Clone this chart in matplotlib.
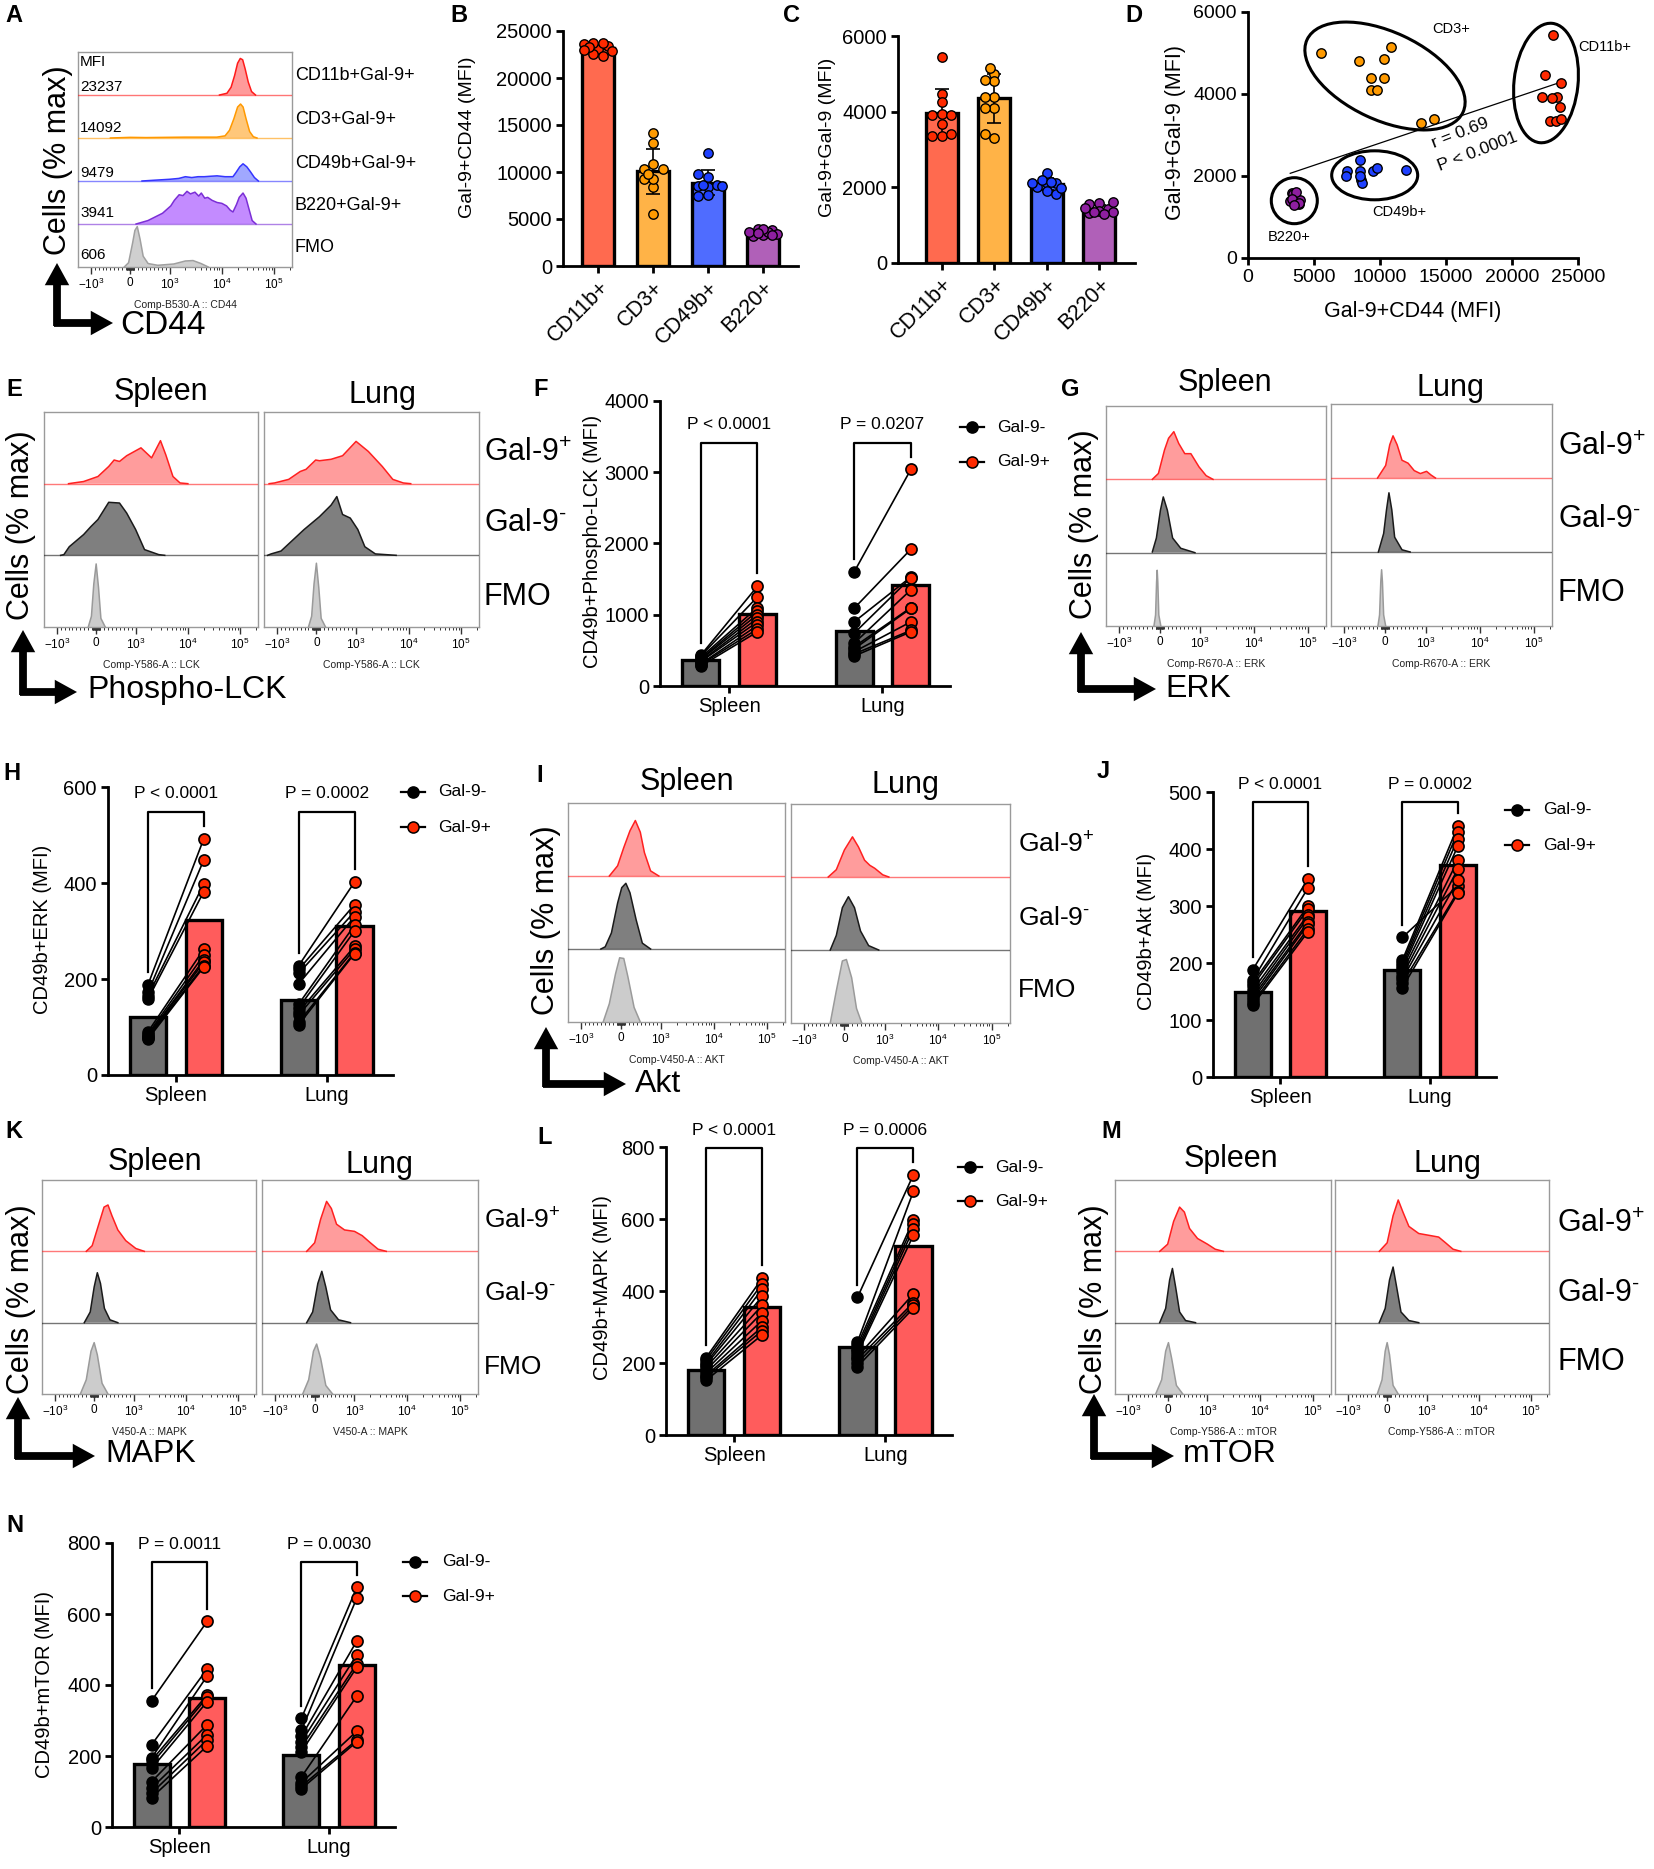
# Galectin-9 / CD49b signalling figure: flow histograms, subset bars,
# correlation scatter and paired Gal-9- / Gal-9+ bar charts.

import numpy as np
import matplotlib as mpl
mpl.use("Agg")
import matplotlib.pyplot as plt
from matplotlib.patches import Ellipse, FancyArrowPatch
from matplotlib.lines import Line2D
from matplotlib.transforms import ScaledTranslation
from matplotlib.ticker import NullFormatter

plt.rcParams['font.family'] = ['Liberation Sans', 'DejaVu Sans']
plt.rcParams['mathtext.fontset'] = 'custom'
plt.rcParams['mathtext.rm'] = 'Liberation Sans'
plt.rcParams['mathtext.it'] = 'Liberation Sans:italic'
plt.rcParams['mathtext.bf'] = 'Liberation Sans:bold'
plt.rcParams['mathtext.sf'] = 'Liberation Sans'

# ---------------- data: panel A (CD44 histograms) ----------------
a_rows = ['CD11b+Gal-9+', 'CD3+Gal-9+', 'CD49b+Gal-9+', 'B220+Gal-9+', 'FMO']
a_mfi = ['23237', '14092', '9479', '3941', '606']
a_cd11b = ([9000, 12500, 15000, 17500, 20000, 22500, 25000, 28000, 32000, 37000, 44000],
           [0, 0.04, 0.18, 0.45, 0.74, 0.85, 0.82, 0.6, 0.3, 0.08, 0])
a_cd3 = ([-500, 0, 400, 2000, 8000, 11500, 14000, 17000, 20000, 22800, 25500, 29000, 34000, 40000, 47000],
         [0, 0.015, 0.01, 0.02, 0.02, 0.05, 0.18, 0.45, 0.72, 0.79, 0.72, 0.45, 0.15, 0.03, 0])
a_cd49b = ([300, 640, 1000, 1500, 2000, 2650, 3500, 4600, 6000, 8100, 11500, 16300, 18700,
            22000, 25400, 30000, 35000, 42000, 50000],
           [0, 0.02, 0.04, 0.06, 0.1, 0.08, 0.1, 0.1, 0.11, 0.12, 0.1, 0.1, 0.2,
            0.33, 0.4, 0.33, 0.22, 0.08, 0])
a_b220 = ([150, 450, 820, 1050, 1230, 1520, 1800, 2150, 2500, 3050, 3600, 4040, 4700, 5340,
           6500, 8100, 10000, 12300, 14500, 16300, 19000, 21500, 25400, 29000, 33000, 38000, 45000],
          [0, 0.08, 0.25, 0.42, 0.55, 0.68, 0.66, 0.76, 0.7, 0.74, 0.65, 0.72, 0.6, 0.62,
           0.55, 0.5, 0.48, 0.42, 0.32, 0.28, 0.45, 0.62, 0.72, 0.6, 0.35, 0.08, 0])
a_fmo = ([-150, -40, 60, 120, 180, 250, 330, 455, 700, 1200, 2000, 2800, 4000, 5500],
         [0, 0.1, 0.55, 0.85, 0.94, 0.65, 0.25, 0.08, 0.04, 0.07, 0.14, 0.15, 0.08, 0])

# ---------------- data: panels B, C, D (per mouse, paired) ----------------
subsets = ['CD11b+', 'CD3+', 'CD49b+', 'B220+']
cd44_cd11b = [23100, 22500, 23700, 22300, 23400, 23600, 22900, 23300, 23000, 23700]
cd44_cd3 = [5500, 8400, 10800, 10300, 9300, 10300, 9300, 9800, 13100, 14100]
cd44_cd49b = [8450, 7500, 7450, 8500, 8570, 8620, 9450, 9750, 11970, 8500]
cd44_b220 = [3330, 3200, 3830, 3960, 3580, 3400, 3650, 3300, 3900, 3500]
gal9_cd11b = [5450, 4460, 4260, 3930, 3920, 3680, 3350, 3350, 3900, 3400]
gal9_cd3 = [5000, 4800, 5150, 4850, 4400, 4400, 4100, 4100, 3300, 3400]
gal9_cd49b = [2390, 2110, 2000, 2110, 1910, 1830, 2110, 2190, 2150, 1990]
gal9_b220 = [1580, 1380, 1320, 1420, 1340, 1550, 1600, 1450, 1350, 1300]
corr_text = ['r = 0.69', 'P < 0.0001']

# ---------------- data: histogram panels E, G, I, K, M ----------------
e_spl_pos = ([-700, -318, 45, 318, 455, 591, 773, 1265, 2020, 2990, 3790, 5180, 7080, 10000],
             [0, 0.03, 0.1, 0.24, 0.33, 0.31, 0.39, 0.5, 0.36, 0.6, 0.4, 0.1, 0.01, 0])
e_spl_neg = ([-900, -818, -682, -318, -136, 45, 318, 591, 773, 1000, 1480, 2770, 3600],
             [0, 0.01, 0.12, 0.29, 0.4, 0.5, 0.74, 0.73, 0.59, 0.36, 0.08, 0.01, 0])
e_spl_fmo = ([-200, -120, -60, 0, 60, 120, 230], [0, 0.15, 0.6, 0.88, 0.55, 0.12, 0])
e_lung_pos = ([-1400, -1100, -699, -408, -262, -19, 78, 369, 660, 1000, 1710, 3160, 5010, 7940, 11000],
              [0, 0.01, 0.06, 0.17, 0.2, 0.33, 0.32, 0.34, 0.39, 0.59, 0.45, 0.24, 0.06, 0.01, 0])
e_lung_neg = ([-1500, -1280, -893, -699, -311, 78, 369, 515, 660, 854, 1080, 1470, 2330, 5800],
              [0, 0.02, 0.06, 0.16, 0.36, 0.54, 0.7, 0.82, 0.57, 0.52, 0.36, 0.12, 0.02, 0])
e_lung_fmo = ([-200, -120, -60, 0, 60, 120, 230], [0, 0.15, 0.6, 0.89, 0.55, 0.12, 0])

g_spl_pos = ([-180, -30, 120, 220, 350, 470, 620, 770, 970, 1290, 1730],
             [0, 0.08, 0.4, 0.56, 0.65, 0.49, 0.35, 0.35, 0.17, 0.05, 0])
g_spl_neg = ([-180, -80, 20, 90, 190, 320, 520, 870], [0.01, 0.2, 0.58, 0.76, 0.58, 0.2, 0.06, 0])
g_spl_fmo = ([-140, -100, -75, -60, -45, -20, 30], [0, 0.15, 0.6, 0.76, 0.6, 0.15, 0])
g_lung_pos = ([-180, 20, 120, 200, 300, 420, 570, 720, 870, 1040, 1260, 1520],
              [0, 0.17, 0.45, 0.57, 0.45, 0.24, 0.2, 0.1, 0.06, 0.09, 0.04, 0])
g_lung_neg = ([-160, -30, 40, 100, 170, 240, 420, 620], [0, 0.25, 0.57, 0.8, 0.57, 0.2, 0.03, 0])
g_lung_fmo = ([-170, -130, -100, -80, -60, -30, 20], [0, 0.15, 0.6, 0.76, 0.6, 0.15, 0])

i_spl_pos = ([-289, -82, 72, 227, 361, 485, 588, 742, 948], [0, 0.14, 0.39, 0.62, 0.76, 0.6, 0.32, 0.07, 0])
i_spl_neg = ([-500, -392, -237, -82, 21, 124, 227, 381, 536, 742],
             [0, 0.03, 0.22, 0.63, 0.84, 0.9, 0.77, 0.4, 0.08, 0])
i_spl_fmo = ([-443, -289, -134, -31, 72, 175, 330, 485], [0, 0.25, 0.66, 0.88, 0.87, 0.62, 0.2, 0])
i_lung_pos = ([-400, -200, 0, 200, 350, 500, 630, 750, 950, 1190],
              [0, 0.1, 0.37, 0.55, 0.41, 0.23, 0.16, 0.12, 0.03, 0])
i_lung_neg = ([-350, -200, -50, 100, 250, 400, 600, 850], [0, 0.2, 0.58, 0.73, 0.58, 0.26, 0.06, 0])
i_lung_fmo = ([-350, -200, -50, 50, 180, 300, 430], [0, 0.44, 0.85, 0.87, 0.62, 0.2, 0])

k_spl_pos = ([-200, -50, 100, 250, 350, 450, 600, 800, 1100, 1600], [0, 0.08, 0.35, 0.62, 0.65, 0.5, 0.3, 0.15, 0.04, 0])
k_spl_neg = ([-250, -100, 0, 80, 160, 260, 400, 600], [0, 0.15, 0.5, 0.7, 0.55, 0.2, 0.04, 0])
k_spl_fmo = ([-350, -200, -80, 0, 80, 200, 350], [0, 0.2, 0.6, 0.72, 0.55, 0.15, 0])
k_lung_pos = ([-200, 0, 150, 300, 420, 550, 750, 1000, 1400, 2000, 2800, 4000],
              [0, 0.12, 0.45, 0.7, 0.6, 0.38, 0.3, 0.28, 0.22, 0.12, 0.03, 0])
k_lung_neg = ([-200, -50, 80, 180, 280, 400, 600, 900], [0, 0.15, 0.55, 0.72, 0.5, 0.18, 0.04, 0])
k_lung_fmo = ([-300, -150, -30, 50, 150, 280, 450], [0, 0.2, 0.6, 0.7, 0.5, 0.12, 0])

m_spl_pos = ([-200, 0, 150, 300, 420, 550, 750, 1000, 1400, 2000], [0, 0.1, 0.42, 0.62, 0.55, 0.32, 0.18, 0.1, 0.03, 0])
m_spl_neg = ([-200, -50, 50, 120, 200, 300, 450, 700], [0, 0.2, 0.6, 0.76, 0.5, 0.15, 0.03, 0])
m_spl_fmo = ([-300, -150, -50, 20, 100, 220, 380], [0, 0.2, 0.6, 0.72, 0.5, 0.12, 0])
m_lung_pos = ([-200, 0, 150, 280, 400, 550, 800, 1200, 1700, 2300, 3200, 4500],
              [0, 0.12, 0.5, 0.72, 0.55, 0.35, 0.25, 0.22, 0.2, 0.12, 0.03, 0])
m_lung_neg = ([-200, -50, 60, 150, 240, 350, 550, 800], [0, 0.2, 0.6, 0.78, 0.5, 0.15, 0.03, 0])
m_lung_fmo = ([-250, -130, -50, 0, 60, 150, 280], [0, 0.2, 0.6, 0.72, 0.55, 0.12, 0])

# ---------------- data: paired panels F, H, J, L, N ----------------
tissues = ['Spleen', 'Lung']
f_spl_neg = [430, 420, 400, 380, 370, 350, 340, 310, 300, 280]
f_spl_pos = [1400, 1250, 1100, 1050, 1000, 950, 900, 850, 800, 760]
f_lung_neg = [1600, 1090, 900, 740, 600, 550, 520, 480, 450, 420]
f_lung_pos = [3040, 1920, 1530, 1520, 1350, 1100, 1090, 900, 780, 760]
f_bars = [(365, 1006), (777, 1418)]
f_p = ['P < 0.0001', 'P = 0.0207']

h_spl_neg = [188, 172, 165, 158, 90, 85, 82, 80, 78, 75]
h_spl_pos = [492, 448, 398, 382, 262, 250, 240, 235, 228, 225]
h_lung_neg = [228, 220, 212, 190, 148, 140, 132, 125, 110, 105]
h_lung_pos = [402, 355, 340, 330, 312, 300, 268, 262, 255, 253]
h_bars = [(120, 322), (156, 311)]
h_p = ['P < 0.0001', 'P = 0.0002']

j_spl_neg = [188, 170, 165, 160, 152, 145, 140, 135, 130, 126]
j_spl_pos = [348, 332, 300, 295, 285, 280, 272, 268, 260, 255]
j_lung_neg = [245, 205, 200, 195, 190, 185, 178, 172, 165, 157]
j_lung_pos = [335, 440, 430, 418, 405, 380, 365, 345, 325, 322]
j_bars = [(149, 291), (188, 372)]
j_p = ['P < 0.0001', 'P = 0.0002']

l_spl_neg = [215, 208, 200, 195, 188, 180, 172, 165, 160, 152]
l_spl_pos = [435, 420, 405, 385, 360, 340, 318, 300, 290, 278]
l_lung_neg = [382, 258, 250, 240, 232, 225, 218, 210, 200, 190]
l_lung_pos = [723, 677, 597, 585, 572, 555, 392, 368, 360, 352]
l_bars = [(181, 355), (244, 526)]
l_p = ['P < 0.0001', 'P = 0.0006']

n_spl_neg = [356, 232, 195, 188, 178, 165, 128, 110, 96, 83]
n_spl_pos = [579, 445, 425, 372, 365, 353, 288, 260, 245, 228]
n_lung_neg = [306, 272, 255, 240, 225, 212, 141, 125, 115, 108]
n_lung_pos = [675, 645, 524, 485, 460, 450, 369, 270, 245, 240]
n_bars = [(177, 362), (202, 455)]
n_p = ['P = 0.0011', 'P = 0.0030']

bracket_tops = {'F': 3410, 'H': 548, 'J': 482, 'L': 797, 'N': 746}

# ---------------- styling ----------------
W, H = 1654, 1869
BAR_COLS = ['#FF6A4F', '#FFB347', '#4F6CFF', '#B060B8']
DOT_COLS = ['#FF2A00', '#FF9A00', '#1E40FF', '#8E1FA0']
BAR_NEG, BAR_POS, DOT_POS = '#707070', '#FF5C5C', '#FF2A00'
HIST_COLS = [('#FF2020', '#FF9C9C'), ('#1A1A1A', '#7F7F7F'), ('#9A9A9A', '#CCCCCC')]
A_COLS = [('#FF1A1A', '#FF9A9A'), ('#FF9900', '#FFC77A'), ('#3535FF', '#A0A8FF'),
          ('#7B2FD6', '#C38BFF'), ('#A0A0A0', '#CFCFCF')]

fig = plt.figure(figsize=(W / 100, H / 100), dpi=100)


def px_axes(x0, y0, x1, y1):
    return fig.add_axes([x0 / W, 1 - y1 / H, (x1 - x0) / W, (y1 - y0) / H])


def ftext(x, y, s, **kw):
    kw.setdefault('ha', 'center')
    kw.setdefault('va', 'center')
    return fig.text(x / W, 1 - y / H, s, **kw)


def l_arrow(x, ytip, ycorner, xtip):
    style = 'simple,head_length=1.0,head_width=1.1,tail_width=0.35'
    for a, b in (((x, ycorner + 3), (x, ytip)), ((x - 3, ycorner), (xtip, ycorner))):
        fig.add_artist(FancyArrowPatch((a[0] / W, 1 - a[1] / H), (b[0] / W, 1 - b[1] / H),
                                       transform=fig.transFigure, arrowstyle=style,
                                       mutation_scale=16, color='black', lw=0,
                                       shrinkA=0, shrinkB=0))


HIST_MAJOR = [-1000, 0, 1000, 1e4, 1e5]
HIST_LABELS = [r'$-10^{3}$', '0', r'$10^{3}$', r'$10^{4}$', r'$10^{5}$']
HIST_MINOR = ([-v for v in range(100, 1000, 100)] + [-v for v in range(10, 100, 10)]
              + list(range(10, 100, 10)) + list(range(100, 1000, 100))
              + [k * 10 ** e for e in (3, 4) for k in range(2, 10)] + [2e5])
ROW_LABELS = ['Gal-9$^{+}$', r'Gal-9$^{\text{-}}$', 'FMO']


def hist_axes(box, curves, colors, xlabel):
    ax = px_axes(*box)
    ax.set_xscale('symlog', linthresh=1000, linscale=0.68)
    n = len(curves)
    for i, ((cx, cy), (edge, fill)) in enumerate(zip(curves, colors)):
        base = n - 1 - i
        xx = np.asarray(cx, float)
        yy = base + np.asarray(cy, float)
        ax.fill_between(xx, base, yy, facecolor=fill, edgecolor='none', zorder=2)
        ax.plot(xx, yy, color=edge, lw=1.1, zorder=3)
        if base > 0:
            ax.axhline(base, color=edge, lw=1.0, alpha=0.6, zorder=3)
    ax.set_xlim(-1750, 2.2e5)
    ax.set_ylim(0, n)
    ax.set_yticks([])
    ax.set_xticks(HIST_MAJOR, HIST_LABELS)
    ax.set_xticks(HIST_MINOR, minor=True)
    ax.xaxis.set_minor_formatter(NullFormatter())
    ax.tick_params(axis='x', which='major', length=5, width=1, labelsize=8.5, pad=2, color='#333333')
    ax.tick_params(axis='x', which='minor', length=2.5, width=0.7, color='#333333')
    for s in ax.spines.values():
        s.set_color('#9A9A9A')
        s.set_linewidth(1.0)
    x0, y0, x1, y1 = box
    ftext((x0 + x1) / 2, y1 + 38, xlabel, fontsize=7.5, color='#222222')
    return ax


def hist_panel(spl_box, lung_box, spl_curves, lung_curves, xlabel, titles_xy, labels_x, labels_y,
               label_size, cells_xy, arrow, name, name_xy):
    hist_axes(spl_box, spl_curves, HIST_COLS, xlabel)
    hist_axes(lung_box, lung_curves, HIST_COLS, xlabel)
    for t, (tx, ty) in zip(tissues, titles_xy):
        ftext(tx, ty, t, fontsize=22)
    for lab, ly in zip(ROW_LABELS, labels_y):
        ftext(labels_x, ly, lab, fontsize=label_size, ha='left')
    ftext(cells_xy[0], cells_xy[1], 'Cells (% max)', fontsize=22, rotation=90)
    l_arrow(*arrow)
    ftext(name_xy[0], name_xy[1], name, fontsize=23, ha='left')


def style_axes(ax, size=14.5):
    for s in ('top', 'right'):
        ax.spines[s].set_visible(False)
    for s in ('left', 'bottom'):
        ax.spines[s].set_linewidth(2)
    ax.tick_params(width=2, length=5, labelsize=size, pad=3)


def swarm(values, xc, ux, uy, d_px=9.5):
    # simple deterministic beeswarm, kept within about one bar width
    placed, xs = [], []
    cands = [0.0, -0.5, 0.5, -1.0, 1.0, -1.5, 1.5]
    for v in values:
        best, best_d = 0.0, -1.0
        for c in cands:
            dmin = min([np.hypot((c - pc) * d_px, (v - pv) / uy) for pc, pv in placed] + [99.0])
            if dmin >= 0.75 * d_px:
                best = c
                break
            if dmin > best_d:
                best, best_d = c, dmin
        placed.append((best, v))
        xs.append(xc + best * d_px * ux)
    return xs


def subset_bars(box, groups, ymax, ystep, bw, xlim, ylabel, ylab_xy):
    ax = px_axes(*box)
    ux = (xlim[1] - xlim[0]) / (box[2] - box[0])
    uy = ymax / (box[3] - box[1])
    for i, vals in enumerate(groups):
        m, sd = np.mean(vals), np.std(vals, ddof=1)
        ax.bar(i, m, bw, color=BAR_COLS[i], edgecolor='black', linewidth=2.4, zorder=1)
        ax.errorbar(i, m, yerr=sd, color='black', capsize=5, elinewidth=1.2, capthick=1.2, zorder=2)
        ax.scatter(swarm(vals, i, ux, uy), vals, s=46, c=DOT_COLS[i], edgecolors='black',
                   linewidths=1.0, zorder=3, clip_on=False)
    ax.set_xlim(*xlim)
    ax.set_ylim(0, ymax)
    ax.set_yticks(np.arange(0, ymax + 1, ystep))
    ax.set_xticks(range(len(subsets)), subsets, rotation=45, ha='right', rotation_mode='anchor')
    style_axes(ax)
    ax.tick_params(axis='x', labelsize=15.5)
    ftext(ylab_xy[0], ylab_xy[1], ylabel, fontsize=14, rotation=90)
    return ax


def legend_at(xm, xt, rows):
    for (mfc, lab), y in zip([('black', 'Gal-9-'), (DOT_POS, 'Gal-9+')], rows):
        fig.add_artist(Line2D([(xm - 12) / W, xm / W, (xm + 12) / W], [1 - y / H] * 3,
                              transform=fig.transFigure, color='black', lw=1.6, marker='o',
                              markevery=[1], ms=8, mfc=mfc, mec='black', mew=1.1))
        ftext(xt, y, lab, fontsize=12.5, ha='left')


def paired(box, negs, poss, bars, ymax, ystep, top, pvals, ylabel, ylab_xy, leg):
    ax = px_axes(*box)
    off, bw = 0.185, 0.24
    for gi in range(2):
        neg, pos = negs[gi], poss[gi]
        ax.bar(gi - off, bars[gi][0], bw, color=BAR_NEG, edgecolor='black', linewidth=2.4, zorder=1)
        ax.bar(gi + off, bars[gi][1], bw, color=BAR_POS, edgecolor='black', linewidth=2.4, zorder=1)
        for a, b in zip(neg, pos):
            ax.plot([gi - off, gi + off], [a, b], color='black', lw=1.2, zorder=2)
        ax.plot([gi - off] * len(neg), neg, 'o', ms=8, mfc='black', mec='black', zorder=3, clip_on=False)
        ax.plot([gi + off] * len(pos), pos, 'o', ms=8, mfc=DOT_POS, mec='black', mew=1.2,
                zorder=3, clip_on=False)
        pad = 0.045 * ymax
        ax.plot([gi - off, gi - off, gi + off, gi + off], [max(neg) + pad, top, top, max(pos) + pad],
                color='black', lw=1.6, clip_on=False, zorder=4)
        ax.annotate(pvals[gi], (gi, top), xytext=(0, 13), textcoords='offset points',
                    ha='center', va='center', fontsize=12.5, annotation_clip=False)
    ax.set_xlim(-0.45, 1.44)
    ax.set_ylim(0, ymax)
    ax.set_yticks(np.arange(0, ymax + 1, ystep))
    ax.set_xticks([0, 1], tissues)
    style_axes(ax)
    ftext(ylab_xy[0], ylab_xy[1], ylabel, fontsize=14.5, rotation=90)
    legend_at(*leg)
    return ax


# ---------------- panel A ----------------
hist_axes((78, 52, 292, 267), [a_cd11b, a_cd3, a_cd49b, a_b220, a_fmo], A_COLS, 'Comp-B530-A :: CD44')
ftext(80, 62, 'MFI', fontsize=11, ha='left')
for txt, y in zip(a_mfi, [87, 128, 173, 213, 255]):
    ftext(80, y, txt, fontsize=11, ha='left')
for txt, y in zip(a_rows, [76, 120, 163, 205, 247]):
    ftext(295, y, txt, fontsize=13, ha='left')
ftext(58, 160, 'Cells (% max)', fontsize=22, rotation=90)
l_arrow(57, 263, 323, 113)
ftext(120, 326, 'CD44', fontsize=24, ha='left')

# ---------------- panels B, C ----------------
subset_bars((563, 31, 798, 266), [cd44_cd11b, cd44_cd3, cd44_cd49b, cd44_b220], 25000, 5000,
            0.58, (-0.64, 3.64), 'Gal-9+CD44 (MFI)', (467, 137))
subset_bars((898, 36, 1135, 263), [gal9_cd11b, gal9_cd3, gal9_cd49b, gal9_b220], 6000, 2000,
            0.61, (-0.84, 3.69), 'Gal-9+Gal-9 (MFI)', (828, 137))

# ---------------- panel D ----------------
axd = px_axes(1248, 12, 1578, 258)
cd44_all = [cd44_cd11b, cd44_cd3, cd44_cd49b, cd44_b220]
gal9_all = [gal9_cd11b, gal9_cd3, gal9_cd49b, gal9_b220]
xa, ya = np.concatenate(cd44_all), np.concatenate(gal9_all)
k, b0 = np.polyfit(xa, ya, 1)
xl = np.array([xa.min(), xa.max()])
axd.plot(xl, k * xl + b0, color='black', lw=0.9, zorder=1)
for i in range(4):
    axd.scatter(cd44_all[i], gal9_all[i], s=46, c=DOT_COLS[i], edgecolors='black', linewidths=1.0,
                zorder=3, clip_on=False)
# gating ellipses around each subset (size in pixels, centred on the data)
for (cx, cy), (w, h, ang) in zip([(22576, 4268), (10379, 4439), (9598, 2017), (3508, 1398)],
                                 [(120, 64, 84), (172, 88, -25), (86, 49, 0), (46, 46, 0)]):
    tr = fig.dpi_scale_trans + ScaledTranslation(cx, cy, axd.transData)
    axd.add_patch(Ellipse((0, 0), w / 100, h / 100, angle=ang, transform=tr, fill=False,
                          ec='black', lw=2.2, clip_on=False, zorder=2))
for lab, (tx, ty) in zip(['CD11b+', 'CD3+', 'CD49b+', 'B220+'],
                         [(25000, 5146), (13939, 5585), (9394, 1122), (1515, 512)]):
    axd.text(tx, ty, lab, fontsize=10.5, ha='left', va='center', clip_on=False)
axd.text(16060, 3049, corr_text[0], fontsize=12.5, rotation=21, ha='center', va='center')
axd.text(17424, 2585, corr_text[1], fontsize=12.5, rotation=21, ha='center', va='center')
axd.set_xlim(0, 25000)
axd.set_ylim(0, 6000)
axd.set_xticks(range(0, 25001, 5000))
axd.set_yticks(range(0, 6001, 2000))
style_axes(axd, 14)
ftext(1413, 312, 'Gal-9+CD44 (MFI)', fontsize=15.5)
ftext(1175, 133, 'Gal-9+Gal-9 (MFI)', fontsize=15.5, rotation=90)

# ---------------- histogram panels ----------------
hist_panel((44, 412, 258, 627), (264, 412, 479, 627),
           [e_spl_pos, e_spl_neg, e_spl_fmo], [e_lung_pos, e_lung_neg, e_lung_fmo],
           'Comp-Y586-A :: LCK', [(161, 392), (382, 395)], 484, [453, 523, 597], 22,
           (21, 525), (23, 630, 692, 77), 'Phospho-LCK', (87, 690))
hist_panel((1106, 406, 1326, 626), (1331, 404, 1552, 626),
           [g_spl_pos, g_spl_neg, g_spl_fmo], [g_lung_pos, g_lung_neg, g_lung_fmo],
           'Comp-R670-A :: ERK', [(1225, 383), (1450, 388)], 1558, [447, 519, 593], 22,
           (1084, 524), (1081, 632, 689, 1156), 'ERK', (1165, 689))
hist_panel((568, 803, 785, 1022), (791, 804, 1010, 1023),
           [i_spl_pos, i_spl_neg, i_spl_fmo], [i_lung_pos, i_lung_neg, i_lung_fmo],
           'Comp-V450-A :: AKT', [(687, 782), (905, 785)], 1018, [845, 918, 990], 19,
           (546, 920), (546, 1027, 1084, 626), 'Akt', (635, 1084))
hist_panel((42, 1180, 256, 1394), (262, 1180, 478, 1394),
           [k_spl_pos, k_spl_neg, k_spl_fmo], [k_lung_pos, k_lung_neg, k_lung_fmo],
           'V450-A :: MAPK', [(155, 1162), (379, 1165)], 484, [1221, 1293, 1367], 19,
           (21, 1299), (18, 1397, 1456, 95), 'MAPK', (105, 1454))
hist_panel((1115, 1180, 1331, 1394), (1335, 1180, 1549, 1394),
           [m_spl_pos, m_spl_neg, m_spl_fmo], [m_lung_pos, m_lung_neg, m_lung_fmo],
           'Comp-Y586-A :: mTOR', [(1231, 1159), (1447, 1164)], 1557, [1224, 1293, 1362], 22,
           (1094, 1299), (1094, 1394, 1456, 1174), 'mTOR', (1183, 1454))

# ---------------- paired panels ----------------
paired((660, 401, 950, 686), [f_spl_neg, f_lung_neg], [f_spl_pos, f_lung_pos], f_bars, 4000, 1000,
       bracket_tops['F'], f_p, 'CD49b+Phospho-LCK (MFI)', (592, 541), (972, 997, [427, 462]))
paired((108, 787, 393, 1075), [h_spl_neg, h_lung_neg], [h_spl_pos, h_lung_pos], h_bars, 600, 200,
       bracket_tops['H'], h_p, 'CD49b+ERK (MFI)', (43, 929), (413, 438, [792, 827]))
paired((1213, 792, 1496, 1077), [j_spl_neg, j_lung_neg], [j_spl_pos, j_lung_pos], j_bars, 500, 100,
       bracket_tops['J'], j_p, 'CD49b+Akt (MFI)', (1147, 931), (1517, 1543, [810, 845]))
paired((666, 1147, 952, 1435), [l_spl_neg, l_lung_neg], [l_spl_pos, l_lung_pos], l_bars, 800, 200,
       bracket_tops['L'], l_p, 'CD49b+MAPK (MFI)', (602, 1288), (970, 995, [1167, 1201]))
paired((112, 1543, 395, 1827), [n_spl_neg, n_lung_neg], [n_spl_pos, n_lung_pos], n_bars, 800, 200,
       bracket_tops['N'], n_p, 'CD49b+mTOR (MFI)', (45, 1684), (415, 442, [1562, 1596]))

# ---------------- panel letters ----------------
for letter, x, y in [('A', 14, 16), ('B', 459, 15), ('C', 792, 15), ('D', 1134, 15), ('E', 14, 390),
                     ('F', 541, 390), ('G', 1070, 390), ('H', 12, 773), ('I', 540, 775),
                     ('J', 1103, 772), ('K', 14, 1132), ('L', 545, 1138), ('M', 1111, 1132),
                     ('N', 15, 1525)]:
    ftext(x, y, letter, fontsize=17, fontweight='bold')

fig.savefig('out.png', dpi=100)
